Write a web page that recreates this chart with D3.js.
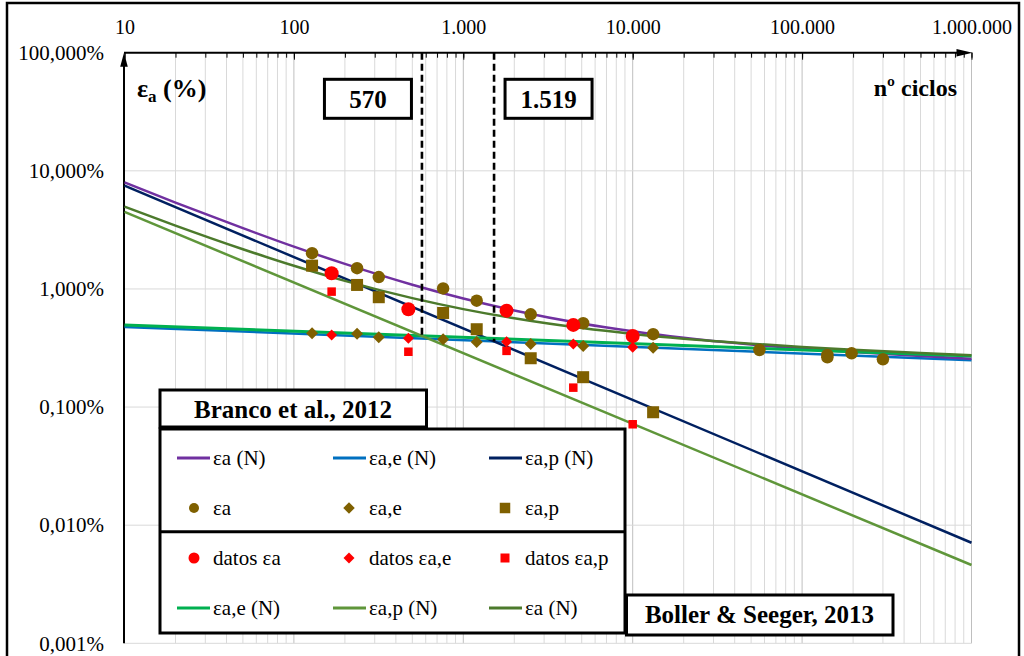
<!DOCTYPE html>
<html>
<head>
<meta charset="utf-8">
<script src="https://cdn.jsdelivr.net/npm/d3@7"></script>
<style>
  body { margin: 0; background: #fff; }
  svg { display: block; }
  text { font-family: "Liberation Serif", "Times New Roman", serif; fill: #000; }
</style>
</head>
<body>
<svg id="chart" width="1024" height="656"></svg>
<script>
// ---- Axis ticks ----
const xTicks = [10, 100, 1000, 10000, 100000, 1000000];
const yTicks = [0.001, 0.01, 0.1, 1, 10, 100];

// ---- Fitted strain-life curves (εa in %) ----
const lineEnds = [10, 1000000];
const brancoElastic = [0.477, 0.249];
const brancoPlastic = [7.49, 0.0071];
const bollerElastic = [0.496, 0.270];
const bollerPlastic = [4.49, 0.0046];

const curveN = [10, 20, 50, 100, 200, 500, 1000, 2000, 5000, 10000, 20000, 50000, 100000, 200000, 500000, 1000000];
const brancoTotal = [7.97, 5.38, 3.27, 2.28, 1.63, 1.086, 0.830, 0.658, 0.510, 0.438, 0.386, 0.338, 0.312, 0.292, 0.270, 0.256];
const bollerTotal = [4.98, 3.44, 2.17, 1.57, 1.17, 0.836, 0.675, 0.564, 0.466, 0.416, 0.379, 0.344, 0.323, 0.306, 0.287, 0.274];

// ---- Branco et al. 2012 points ----
const brancoN   = [128, 236, 317, 760, 1200, 2500, 5100, 13200];
const brancoEa  = [2.01, 1.50, 1.26, 1.01, 0.796, 0.610, 0.513, 0.414];
const brancoEae = [0.422, 0.418, 0.390, 0.375, 0.356, 0.342, 0.329, 0.318];
const brancoEap = [1.575, 1.081, 0.851, 0.626, 0.456, 0.259, 0.179, 0.0904];
const brancoLongN  = [56000, 141000, 141000, 196000, 300000];
const brancoLongEa = [0.304, 0.276, 0.264, 0.285, 0.254];

// ---- Test data ----
const datosN   = [167, 474, 1800, 4460, 10000];
const datosEa  = [1.358, 0.673, 0.655, 0.496, 0.400];
const datosEae = [0.408, 0.383, 0.358, 0.342, 0.321];
const datosEap = [0.949, 0.294, 0.299, 0.146, 0.0715];

// ---- Transition lives ----
const transitionN = [570, 1519];
const transitionEps = [0.400, 0.359];
const transitionLabels = ["570", "1.519"];

// ---- Colours ----
const C = {
  purple: "#7030A0", blue: "#0070C0", navy: "#002060",
  brown: "#7F6000", red: "#FF0000",
  green: "#00B050", olive: "#5F963A", darkOlive: "#4C7A2C"
};

const svg = d3.select("#chart");
const x = d3.scaleLog().domain([10, 1e6]).range([124.5, 971.5]);
const y = d3.scaleLog().domain([0.001, 100]).range([643.3, 52.7]);

const locale = d3.formatLocale({ decimal: ",", thousands: ".", grouping: [3], currency: ["", ""] });
const fmtX = locale.format(",d");
const fmtY = v => locale.format(".3f")(v) + "%";

// outer frame
svg.append("rect").attr("x", 7).attr("y", 3).attr("width", 1012).attr("height", 720)
  .attr("fill", "none").attr("stroke", "#000").attr("stroke-width", 2.5);

// minor tick values (1..9 per decade)
const minorVals = [];
xTicks.slice(0, -1).forEach(d => { for (let k = 1; k < 10; k++) minorVals.push(d * k); });
minorVals.push(1e6);

// gridlines
const grid = svg.append("g");
grid.selectAll("line.v").data(minorVals).join("line")
  .attr("x1", d => x(d)).attr("x2", d => x(d))
  .attr("y1", y(100)).attr("y2", y(0.001))
  .attr("stroke", d => xTicks.includes(d) ? "#bfbfbf" : "#d9d9d9")
  .attr("stroke-width", 1);
grid.selectAll("line.h").data(yTicks.slice(0, -1)).join("line")
  .attr("x1", x(10)).attr("x2", x(1e6))
  .attr("y1", d => y(d)).attr("y2", d => y(d))
  .attr("stroke", "#d9d9d9").attr("stroke-width", 1);

// top axis: minor ticks then labelled decades
const axMinor = svg.append("g").attr("transform", `translate(0,${y(100)})`)
  .call(d3.axisTop(x).tickValues(minorVals).tickSizeInner(-5).tickSizeOuter(0).tickFormat(""));
axMinor.select(".domain").remove();
const axMajor = svg.append("g").attr("transform", `translate(0,${y(100)})`)
  .call(d3.axisTop(x).tickValues(xTicks).tickSizeInner(-7).tickSizeOuter(0).tickPadding(19).tickFormat(fmtX));
axMajor.select(".domain").remove();
axMajor.selectAll("text").attr("font-size", 20).attr("font-family", "Liberation Serif").attr("fill", "#000");

// left axis labels
const axY = svg.append("g").attr("transform", `translate(124,0)`)
  .call(d3.axisLeft(y).tickValues(yTicks).tickSize(0).tickPadding(20).tickFormat(fmtY));
axY.select(".domain").remove();
axY.selectAll("text").attr("font-size", 21).attr("font-family", "Liberation Serif").attr("fill", "#000");

// axis lines with arrows
svg.append("line").attr("x1", 124).attr("x2", 960).attr("y1", y(100)).attr("y2", y(100))
  .attr("stroke", "#000").attr("stroke-width", 2);
svg.append("path").attr("d", `M${x(1e6) + 1},${y(100)} L${x(1e6) - 15},${y(100) - 3.8} L${x(1e6) - 15},${y(100) + 3.8} Z`).attr("fill", "#000");
svg.append("line").attr("x1", 124).attr("x2", 124).attr("y1", y(0.001)).attr("y2", 62)
  .attr("stroke", "#000").attr("stroke-width", 2);
svg.append("path").attr("d", `M124,${y(100)} L120.2,${y(100) + 14} L127.8,${y(100) + 14} Z`).attr("fill", "#000");

// axis titles
const yt = svg.append("text").attr("x", 137).attr("y", 97).attr("font-size", 26).attr("font-weight", "bold");
yt.append("tspan").text("ε");
yt.append("tspan").attr("font-size", 17).attr("dy", 5).text("a");
yt.append("tspan").attr("dy", -5).text(" (%)");
svg.append("text").attr("x", 957).attr("y", 96).attr("text-anchor", "end")
  .attr("font-size", 24).attr("font-weight", "bold").text("nº ciclos");

// curves
const straight = d3.line().x(d => x(d[0])).y(d => y(d[1]));
const smooth = d3.line().x(d => x(d[0])).y(d => y(d[1])).curve(d3.curveMonotoneX);
const curves = [
  { pts: d3.zip(lineEnds, brancoElastic), gen: straight, color: C.blue, w: 2.5 },
  { pts: d3.zip(lineEnds, brancoPlastic), gen: straight, color: C.navy, w: 2.5 },
  { pts: d3.zip(curveN, brancoTotal), gen: smooth, color: C.purple, w: 2.5 },
  { pts: d3.zip(lineEnds, bollerElastic), gen: straight, color: C.green, w: 3 },
  { pts: d3.zip(lineEnds, bollerPlastic), gen: straight, color: C.olive, w: 2.5 },
  { pts: d3.zip(curveN, bollerTotal), gen: smooth, color: C.darkOlive, w: 2.5 }
];
curves.forEach(c => svg.append("path").attr("d", c.gen(c.pts))
  .attr("fill", "none").attr("stroke", c.color).attr("stroke-width", c.w));

// transition dashed lines and boxes
transitionN.forEach((n, i) => {
  svg.append("line").attr("x1", x(n)).attr("x2", x(n))
    .attr("y1", y(100)).attr("y2", y(transitionEps[i]))
    .attr("stroke", "#000").attr("stroke-width", 2.6).attr("stroke-dasharray", "7,4");
  const bw = 87, bh = 39;
  const bx = i === 0 ? x(n) - 10.5 - bw : x(n) + 11;
  svg.append("rect").attr("x", bx).attr("y", 79.3).attr("width", bw).attr("height", bh)
    .attr("fill", "#fff").attr("stroke", "#000").attr("stroke-width", 3);
  svg.append("text").attr("x", bx + bw / 2).attr("y", 79.3 + bh / 2).attr("dy", "0.35em")
    .attr("text-anchor", "middle").attr("font-size", 25).attr("font-weight", "bold")
    .text(transitionLabels[i]);
});

// markers
const diamond = s => d3.symbol(d3.symbolSquare, s * s / 2)();
function drawMarkers(ns, vs, shape, color, size) {
  const g = svg.append("g").attr("fill", color);
  const pts = d3.zip(ns, vs);
  if (shape === "circle") {
    g.selectAll("circle").data(pts).join("circle")
      .attr("cx", d => x(d[0])).attr("cy", d => y(d[1])).attr("r", size / 2);
  } else if (shape === "square") {
    g.selectAll("rect").data(pts).join("rect")
      .attr("x", d => x(d[0]) - size / 2).attr("y", d => y(d[1]) - size / 2)
      .attr("width", size).attr("height", size);
  } else {
    g.selectAll("path").data(pts).join("path").attr("d", diamond(size))
      .attr("transform", d => `translate(${x(d[0])},${y(d[1])}) rotate(45)`);
  }
}
drawMarkers(brancoN, brancoEae, "diamond", C.brown, 12);
drawMarkers(brancoN, brancoEap, "square", C.brown, 12);
drawMarkers(brancoN, brancoEa, "circle", C.brown, 12.5);
drawMarkers(brancoLongN, brancoLongEa, "circle", C.brown, 12.5);
drawMarkers(datosN, datosEae, "diamond", C.red, 11);
drawMarkers(datosN, datosEap, "square", C.red, 8.5);
drawMarkers(datosN, datosEa, "circle", C.red, 14);

// legend
const legendItems = [
  { label: "εa (N)", kind: "line", color: C.purple },
  { label: "εa,e (N)", kind: "line", color: C.blue },
  { label: "εa,p (N)", kind: "line", color: C.navy },
  { label: "εa", kind: "circle", color: C.brown, size: 10 },
  { label: "εa,e", kind: "diamond", color: C.brown, size: 11.5 },
  { label: "εa,p", kind: "square", color: C.brown, size: 10.5 },
  { label: "datos εa", kind: "circle", color: C.red, size: 11 },
  { label: "datos εa,e", kind: "diamond", color: C.red, size: 11 },
  { label: "datos εa,p", kind: "square", color: C.red, size: 9 },
  { label: "εa,e (N)", kind: "line", color: C.green },
  { label: "εa,p (N)", kind: "line", color: C.olive },
  { label: "εa (N)", kind: "line", color: C.darkOlive }
];

const lg = svg.append("g");
lg.append("rect").attr("x", 160).attr("y", 390).attr("width", 266.5).attr("height", 37)
  .attr("fill", "#fff").attr("stroke", "#000").attr("stroke-width", 3);
lg.append("text").attr("x", 293).attr("y", 418.3).attr("text-anchor", "middle")
  .attr("font-size", 25).attr("font-weight", "bold").text("Branco et al., 2012");
lg.append("rect").attr("x", 160).attr("y", 429).attr("width", 465).attr("height", 204)
  .attr("fill", "#fff").attr("stroke", "#000").attr("stroke-width", 3);
lg.append("line").attr("x1", 160).attr("x2", 625).attr("y1", 531.7).attr("y2", 531.7)
  .attr("stroke", "#000").attr("stroke-width", 3);

const colX = [177, 333, 489];
const rowY = [458, 508, 558, 608];
legendItems.forEach((it, i) => {
  const cx = colX[i % 3], cy = rowY[Math.floor(i / 3)];
  if (it.kind === "line") {
    lg.append("line").attr("x1", cx).attr("x2", cx + 33).attr("y1", cy).attr("y2", cy)
      .attr("stroke", it.color).attr("stroke-width", 3);
  } else if (it.kind === "circle") {
    lg.append("circle").attr("cx", cx + 17).attr("cy", cy).attr("r", it.size / 2).attr("fill", it.color);
  } else if (it.kind === "square") {
    lg.append("rect").attr("x", cx + 16 - it.size / 2).attr("y", cy - it.size / 2)
      .attr("width", it.size).attr("height", it.size).attr("fill", it.color);
  } else {
    lg.append("path").attr("d", diamond(it.size)).attr("fill", it.color)
      .attr("transform", `translate(${cx + 16},${cy}) rotate(45)`);
  }
  lg.append("text").attr("x", cx + 36).attr("y", cy).attr("dy", "0.35em")
    .attr("font-size", 21).text(it.label);
});

lg.append("rect").attr("x", 626.5).attr("y", 595).attr("width", 266.5).attr("height", 40)
  .attr("fill", "#fff").attr("stroke", "#000").attr("stroke-width", 3);
lg.append("text").attr("x", 759.5).attr("y", 623.3).attr("text-anchor", "middle")
  .attr("font-size", 25).attr("font-weight", "bold").text("Boller & Seeger, 2013");
</script>
</body>
</html>
